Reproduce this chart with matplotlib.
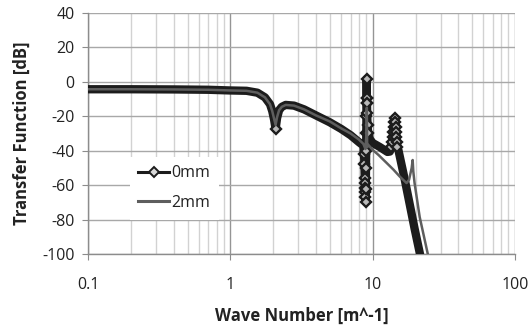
import numpy as np
import matplotlib
matplotlib.use('Agg')
import matplotlib.pyplot as plt
from matplotlib.lines import Line2D

plt.rcParams['font.family'] = ['Open Sans', 'DejaVu Sans']
plt.rcParams['axes.unicode_minus'] = False

# 0mm series (wave number [m^-1], transfer function [dB])
k_0mm = [0.1, 0.2, 0.4, 0.7, 1.0, 1.3, 1.55, 1.75, 1.9, 1.97, 2.03, 2.08, 2.13, 2.2,
         2.3, 2.45, 2.8, 3.3, 4.0, 5.0, 6.0, 7.0, 8.0, 8.6,
         8.7, 8.75, 8.8, 8.83, 8.86, 8.88, 8.9, 8.92, 8.95, 8.98, 9.0, 9.02, 9.04,
         9.06, 9.07, 9.08, 9.1, 9.12, 9.15, 9.2, 9.3, 9.5,
         10.0, 11.2, 12.7, 13.2, 13.5, 13.7, 13.85, 14.0, 14.1, 14.2, 14.3, 14.4,
         14.5, 14.6, 14.7, 14.8, 14.9, 15.2, 16.8, 18.2, 19.7, 21.5]
tf_0mm = [-4.3, -4.3, -4.4, -4.6, -5.0, -5.2, -6.3, -9.0, -13.0, -17.0, -22.0, -27.4, -21.0, -16.5,
          -14.5, -13.4, -13.8, -16.0, -19.5, -23.5, -27.3, -31.0, -35.0, -37.0,
          -42.0, -48.0, -55.8, -58.8, -61.7, -64.0, -66.9, -69.5, -62.0, -50.0, -40.0, -30.0, -20.0,
          -12.3, -9.4, 1.7, -9.4, -12.3, -18.0, -25.0, -30.0, -33.0,
          -35.5, -37.8, -40.7, -40.5, -38.0, -35.0, -32.0, -29.1, -26.2, -23.3, -20.8, -23.3,
          -26.2, -29.1, -32.0, -35.0, -37.8, -40.0, -56.7, -71.0, -85.2, -100.0]

# 2mm series
k_2mm = [0.1, 0.2, 0.4, 0.7, 1.0, 1.3, 1.55, 1.75, 1.9, 1.97, 2.03, 2.08, 2.13, 2.2,
         2.3, 2.45, 2.8, 3.3, 4.0, 5.0, 6.0, 7.0, 8.0, 8.6, 8.9, 9.05, 9.1, 9.15, 9.3,
         10.0, 11.0, 12.5, 14.0, 15.5, 17.3, 18.0, 18.8, 19.1, 19.3, 19.7, 21.4, 24.4]
tf_2mm = [-4.3, -4.3, -4.4, -4.6, -5.0, -5.2, -6.3, -9.0, -13.0, -17.0, -21.5, -25.0, -20.5, -16.5,
          -14.5, -13.4, -13.8, -16.0, -19.5, -23.0, -27.0, -30.0, -33.5, -36.0, -39.0, -30.0, -15.0, -38.0, -36.5,
          -39.5, -42.5, -47.0, -51.0, -55.0, -58.8, -57.0, -50.0, -45.4, -52.0, -58.8, -78.5, -100.0]

xticks = [0.1, 1, 10, 100]
xticklabels = ['0.1', '1', '10', '100']
yticks = [-100, -80, -60, -40, -20, 0, 20, 40]
yticklabels = ['-100', '-80', '-60', '-40', '-20', '0', '20', '40']

fig = plt.figure(figsize=(5.29, 3.33), dpi=100)
ax = fig.add_axes([0.1664, 0.2372, 0.8071, 0.7238])

ax.set_xscale('log')
ax.set_xlim(0.1, 100)
ax.set_ylim(-100, 40)

# markers only where the points are dense (dip and resonances)
k0 = np.array(k_0mm)
mark = np.where((k0 > 2.05) & (k0 < 2.1) | (k0 > 8.65) & (k0 < 9.5) | (k0 > 13.4) & (k0 < 15.0))[0]
ax.plot(k_0mm, tf_0mm, color='#1c1c1c', lw=6, solid_joinstyle='round', marker='D', ms=4.6,
        mfc='#b8b8b8', mec='#1c1c1c', mew=1.7, markevery=list(mark), zorder=3)
ax.plot(k_2mm, tf_2mm, color='#5e5e5e', lw=1.8, zorder=4)

ax.set_xticks(xticks)
ax.set_xticklabels(xticklabels)
ax.set_yticks(yticks)
ax.set_yticklabels(yticklabels)
ax.xaxis.set_minor_locator(matplotlib.ticker.LogLocator(base=10, subs=np.arange(2, 10)))
ax.xaxis.set_minor_formatter(matplotlib.ticker.NullFormatter())

ax.grid(True, which='major', axis='y', color='#a8a8a8', lw=1.0)
ax.grid(True, which='major', axis='x', color='#959595', lw=1.0)
ax.grid(True, which='minor', axis='x', color='#d2d2d2', lw=1.0)
ax.set_axisbelow(True)

for s in ['top', 'right']:
    ax.spines[s].set_visible(False)
for s in ['left', 'bottom']:
    ax.spines[s].set_color('#8c8c8c')
    ax.spines[s].set_linewidth(1.0)

ax.tick_params(axis='both', which='major', direction='out', length=4.5, color='#8c8c8c',
               labelsize=11.5, labelcolor='#222222')
ax.tick_params(axis='x', which='major', pad=12)
ax.tick_params(axis='y', which='major', pad=5)
ax.tick_params(axis='x', which='minor', length=0)

ax.set_xlabel('Wave Number [m^-1]', fontsize=12, fontweight='bold', color='#222222', labelpad=10)
ax.set_ylabel('Transfer Function [dB]', fontsize=12, fontweight='bold', color='#222222', labelpad=8)

handles = [Line2D([], [], color='#1c1c1c', lw=2.2, marker='D', ms=5, mfc='#d8d8d8', mec='#1c1c1c', mew=1.4),
           Line2D([], [], color='#5e5e5e', lw=2.2)]
leg = ax.legend(handles, ['0mm', '2mm'], loc='upper left', bbox_to_anchor=(0.245, 0.53),
                bbox_transform=fig.transFigure, frameon=True, facecolor='white', edgecolor='none',
                framealpha=1, fancybox=False, fontsize=11.5, handlelength=1.9, handletextpad=0.15,
                labelspacing=0.85, borderpad=0.55, borderaxespad=0)
for t in leg.get_texts():
    t.set_color('#222222')

fig.savefig('out.png', dpi=100)
